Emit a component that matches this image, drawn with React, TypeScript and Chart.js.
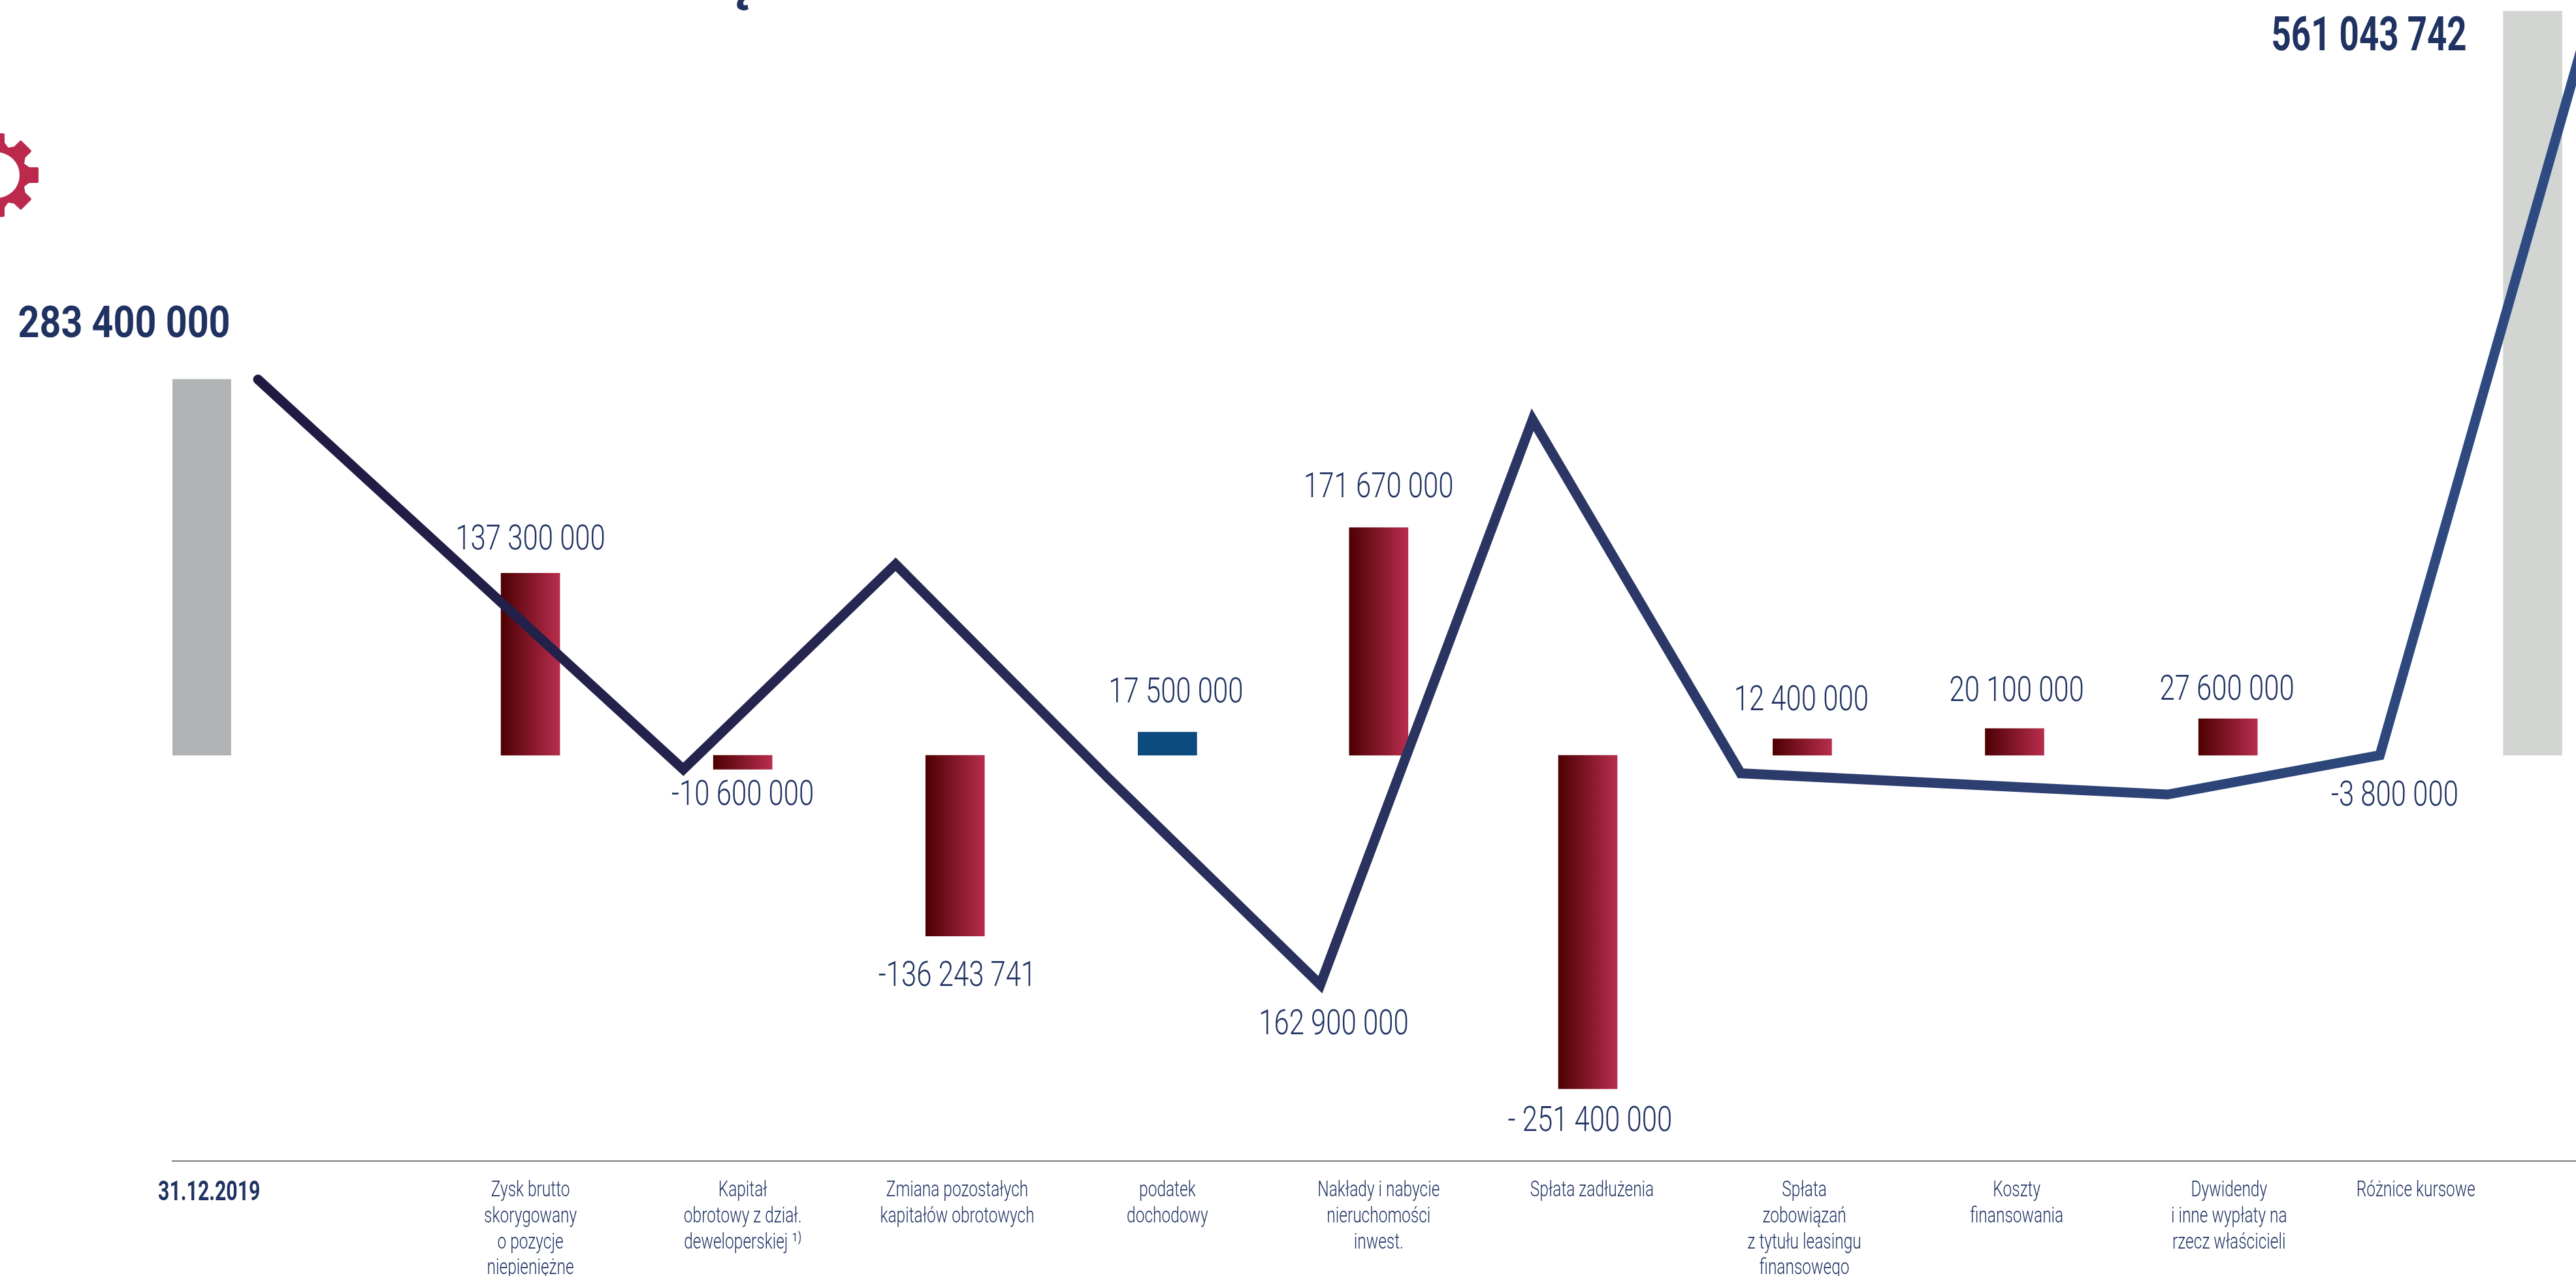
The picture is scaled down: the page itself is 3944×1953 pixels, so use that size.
import React, { useEffect, useRef } from "react";
import { Chart, registerables } from "chart.js";

Chart.register(...registerables);

// Cash-flow bridge, values in millions of PLN.
const barSlots = [-1.549, 0, 1, 2, 3, 3.995, 4.98, 5.99, 6.99, 7.995, 9.43];
const barValues = [283.4, 137.3, -10.6, -136.243741, 17.5, 171.67, -251.4, 12.4, 20.1, 27.6, 561.043742];
const barKinds = ["open", "flow", "flow", "flow", "tax", "flow", "flow", "flow", "flow", "flow", "close"];

const lineSlots = [-1.283, 0.72, 1.72, 2.72, 3.72, 4.72, 5.7, 7.71, 8.71, 9.71];
const lineValues = [283.4, -10.6, 144, -17, -173, 253, -13.6, -29.6, 0, 561.043742];

const tickSlots = [-1.513, 0, 1, 2.01, 3, 3.995, 5, 6, 7, 8, 8.88];
const tickLabels = [
  ["31.12.2019"],
  ["Zysk brutto", "skorygowany", "o pozycje", "niepieniężne"],
  ["Kapitał", "obrotowy z dział.", "deweloperskiej ¹⁾"],
  ["Zmiana pozostałych", "kapitałów obrotowych"],
  ["podatek", "dochodowy"],
  ["Nakłady i nabycie", "nieruchomości", "inwest."],
  ["Spłata zadłużenia"],
  ["Spłata", "zobowiązań", "z tytułu leasingu", "finansowego"],
  ["Koszty", "finansowania"],
  ["Dywidendy", "i inne wypłaty na", "rzecz właścicieli"],
  ["Różnice kursowe"],
];

const valueLabels = [
  "137 300 000", "-10 600 000", "-136 243 741", "17 500 000", "162 900 000", "171 670 000",
  "- 251 400 000", "12 400 000", "20 100 000", "27 600 000", "-3 800 000",
];
const valueLabelSlots = [0, 1, 2.01, 3.04, 3.783, 3.995, 4.99, 5.985, 7, 7.99, 8.78];
const valueLabelLevels = [137.3, -10.6, -136.243741, 17.5, -173, 171.67, -251.4, 12.4, 20.1, 27.6, -3.8];
const valueLabelGaps = [-50, 41, 63, -59, 63, -60, 51, -57, -55, -42, 56];

const NAVY = "#1f3261";
const FONT = "Roboto";
const PX_PER_UNIT = 2.03;
const BASELINE = 1156;
const AXIS_Y = 1777;

// Horizontal squeeze per font size, giving the condensed look of the report's typeface.
const condenseBySize: Record<string, number> = {
  "72px": 0.734, "66px": 0.87, "42px": 0.72, "53px": 0.79, "34px": 0.72, "92px": 1,
};

function condenseCanvasText(ctx: any) {
  const raw = ctx.fillText.bind(ctx);
  ctx.fillText = (text: string, x: number, y: number) => {
    const size = (ctx.font.match(/\d+px/) || [""])[0];
    ctx.save();
    ctx.translate(x, y);
    ctx.scale(condenseBySize[size] ?? 1, 1);
    raw(text, 0, 0);
    ctx.restore();
  };
}

const decorations = {
  id: "decorations",
  beforeDraw(chart: any) {
    const { ctx } = chart;
    ctx.save();
    // Cog at the left edge.
    ctx.fillStyle = "#bb2a4d";
    ctx.strokeStyle = "#bb2a4d";
    ctx.lineJoin = "round";
    ctx.lineWidth = 4;
    const cx = -5, cy = 268;
    ctx.beginPath();
    ctx.arc(cx, cy, 46, 0, Math.PI * 2);
    ctx.arc(cx, cy, 35, 0, Math.PI * 2, true);
    ctx.fill();
    for (let i = 0; i < 8; i++) {
      ctx.save();
      ctx.translate(cx, cy);
      ctx.rotate((i * Math.PI) / 4);
      ctx.beginPath();
      ctx.moveTo(42, -15);
      ctx.lineTo(49, -10);
      ctx.lineTo(62, -10);
      ctx.lineTo(62, 10);
      ctx.lineTo(49, 10);
      ctx.lineTo(42, 15);
      ctx.closePath();
      ctx.fill();
      ctx.stroke();
      ctx.restore();
    }
    // Tail of the heading running off the top edge.
    ctx.fillStyle = NAVY;
    ctx.font = `bold 92px ${FONT}`;
    ctx.textAlign = "center";
    ctx.textBaseline = "alphabetic";
    ctx.fillText("ę", 1131, -2);
    ctx.restore();
  },
};

const valueText = {
  id: "valueText",
  afterDatasetsDraw(chart: any) {
    const { ctx, scales } = chart;
    const { x, y } = scales;
    ctx.save();
    ctx.fillStyle = NAVY;
    ctx.textAlign = "center";
    ctx.textBaseline = "middle";
    ctx.font = `300 53px ${FONT}`;
    valueLabels.forEach((text, i) => {
      const py = y.getPixelForValue(valueLabelLevels[i]) + valueLabelGaps[i];
      ctx.fillText(text, x.getPixelForValue(valueLabelSlots[i]), py);
    });
    ctx.textAlign = "right";
    ctx.font = `bold 66px ${FONT}`;
    ctx.fillText("283 400 000", x.getPixelForValue(barSlots[0]) + 44, y.getPixelForValue(barValues[0]) - 81);
    ctx.font = `bold 72px ${FONT}`;
    ctx.fillText("561 043 742", x.getPixelForValue(barSlots[10]) - 101, y.getPixelForValue(barValues[10]) + 42);
    ctx.restore();
  },
};

function barFill(context: any) {
  const kind = barKinds[context.dataIndex];
  if (kind === "open") return "#b1b4b4";
  if (kind === "close") return "#d3d5d3";
  if (kind === "tax") return "#0d4a7d";
  const scale = context.chart.scales.x;
  const centre = scale ? scale.getPixelForValue(barSlots[context.dataIndex]) : NaN;
  if (!Number.isFinite(centre)) return "#8a1a30";
  const grad = context.chart.ctx.createLinearGradient(centre - 45, 0, centre + 45, 0);
  grad.addColorStop(0, "#4d0002");
  grad.addColorStop(1, "#b82d4d");
  return grad;
}

export default function App() {
  const ref = useRef<HTMLCanvasElement>(null);
  useEffect(() => {
    document.body.style.margin = "0";
    const canvas = ref.current!;
    const ctx = canvas.getContext("2d")!;
    condenseCanvasText(ctx);
    const lineGrad = ctx.createLinearGradient(390, 0, 3944, 0);
    lineGrad.addColorStop(0, "#201a42");
    lineGrad.addColorStop(0.5, "#2b3360");
    lineGrad.addColorStop(1, "#2e4c82");
    const chart = new Chart(canvas, {
      type: "bar",
      data: {
        datasets: [
          {
            type: "line",
            data: lineSlots.map((s, i) => ({ x: s, y: lineValues[i] })),
            borderColor: lineGrad,
            borderWidth: 15,
            borderCapStyle: "round",
            borderJoinStyle: "miter",
            pointRadius: 0,
            tension: 0,
            order: 0,
          },
          {
            type: "bar",
            data: barSlots.map((s, i) => ({ x: s, y: barValues[i] })),
            backgroundColor: barFill,
            barThickness: 90,
            borderWidth: 0,
            order: 1,
          },
        ],
      } as any,
      plugins: [decorations, valueText],
      options: {
        responsive: false,
        animation: false,
        layout: { padding: { left: 264, right: 0, top: 0, bottom: 0 } },
        plugins: { legend: { display: false }, tooltip: { enabled: false } },
        scales: {
          x: {
            type: "linear",
            offset: false,
            min: -1.686,
            max: 9.634,
            afterBuildTicks(scale: any) {
              scale.ticks = tickSlots.map((value) => ({ value }));
            },
            afterFit(scale: any) {
              scale.height = 1953 - AXIS_Y;
            },
            border: { display: true, color: "#7a7a7a", width: 2 },
            grid: { display: false, drawTicks: false },
            ticks: {
              autoSkip: false,
              maxRotation: 0,
              minRotation: 0,
              padding: 26,
              color: NAVY,
              font: (c: any) =>
                c.index === 0
                  ? { family: FONT, size: 42, weight: "bold", lineHeight: 1.1 }
                  : { family: FONT, size: 34, weight: 300, lineHeight: 1.165 },
              callback: (_v: any, i: number) => tickLabels[i],
            },
          },
          y: {
            display: false,
            min: (BASELINE - AXIS_Y) / PX_PER_UNIT,
            max: BASELINE / PX_PER_UNIT,
          },
        },
      },
    } as any);
    return () => chart.destroy();
  }, []);
  return <canvas ref={ref} width={3944} height={1953} style={{ display: "block" }} />;
}
